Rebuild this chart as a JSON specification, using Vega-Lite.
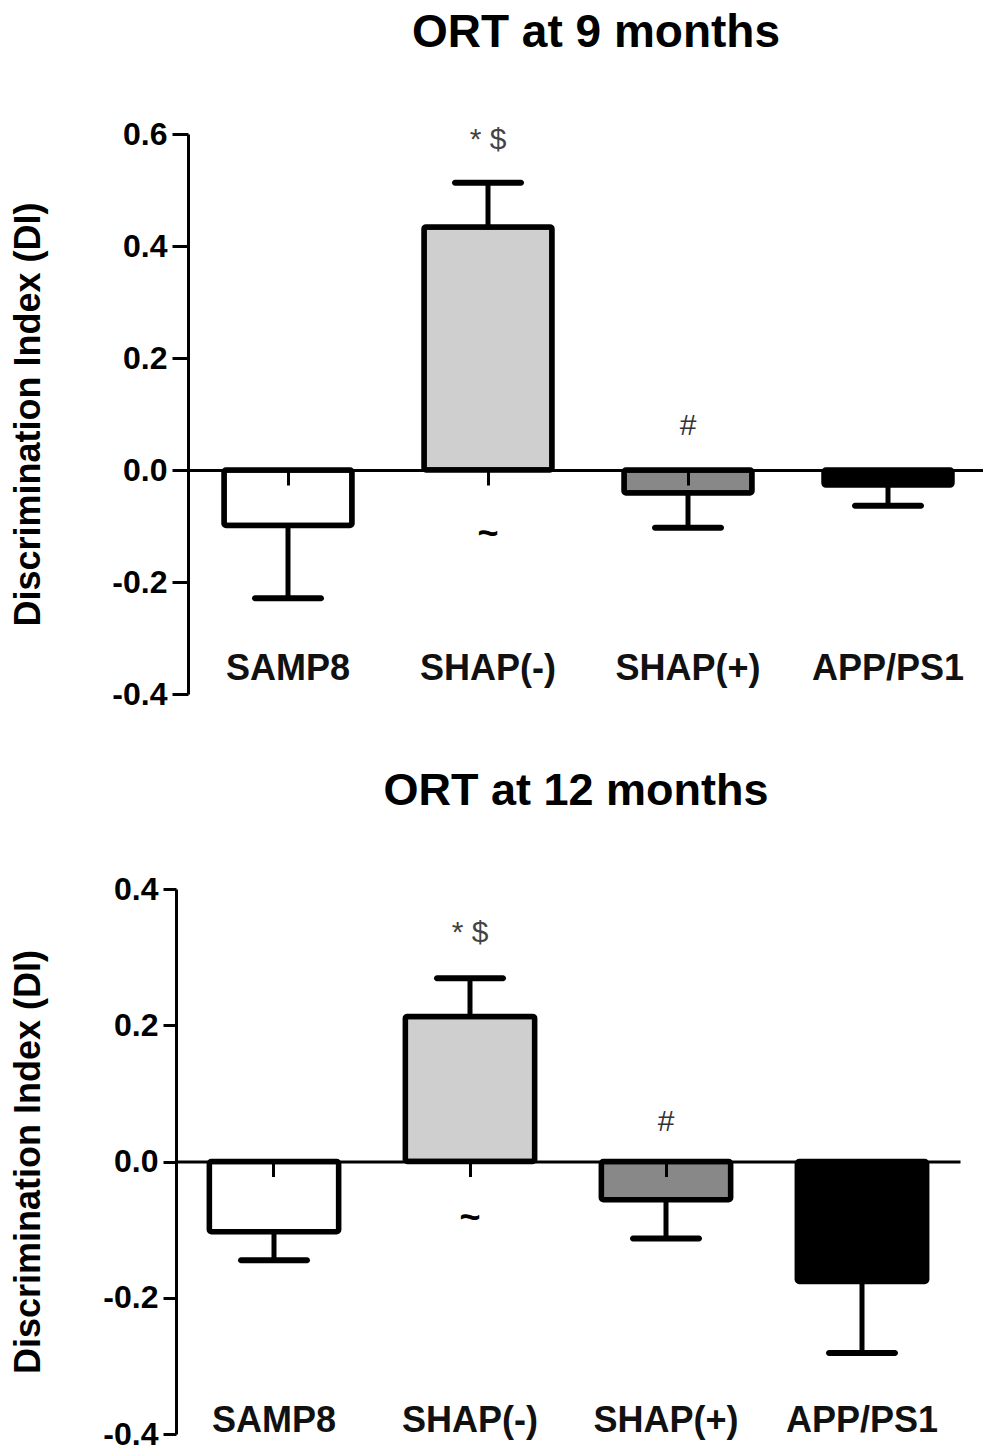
{
  "$schema": "https://vega.github.io/schema/vega-lite/v6.json",
  "padding": {"left": 10, "top": 10, "right": 0, "bottom": 0},
  "background": "white",
  "config": {"view": {"stroke": null}, "font": "Liberation Sans"},
  "spacing": 59,
  "datasets": {
    "m9": [
      {"group": "SAMP8", "mean": -0.099, "err_end": -0.229, "sig_top": "", "sig_zero": "", "sig_below": ""},
      {"group": "SHAP(-)", "mean": 0.434, "err_end": 0.513, "sig_top": "* $", "sig_zero": "", "sig_below": "~"},
      {"group": "SHAP(+)", "mean": -0.041, "err_end": -0.103, "sig_top": "", "sig_zero": "#", "sig_below": ""},
      {"group": "APP/PS1", "mean": -0.027, "err_end": -0.064, "sig_top": "", "sig_zero": "", "sig_below": ""}
    ],
    "m12": [
      {"group": "SAMP8", "mean": -0.103, "err_end": -0.145, "sig_top": "", "sig_zero": "", "sig_below": ""},
      {"group": "SHAP(-)", "mean": 0.213, "err_end": 0.269, "sig_top": "* $", "sig_zero": "", "sig_below": "~"},
      {"group": "SHAP(+)", "mean": -0.056, "err_end": -0.113, "sig_top": "", "sig_zero": "#", "sig_below": ""},
      {"group": "APP/PS1", "mean": -0.176, "err_end": -0.281, "sig_top": "", "sig_zero": "", "sig_below": ""}
    ]
  },
  "vconcat": [
    {
      "data": {"name": "m9"},
      "width": 808,
      "height": 560,
      "title": {"text": "ORT at 9 months", "fontSize": 46, "fontWeight": "bold", "color": "black", "font": "Liberation Sans", "offset": 61, "anchor": "middle", "dx": 16},
      "encoding": {
        "x": {"field": "group", "type": "nominal", "sort": null, "axis": null,
              "scale": {"range": [12, 812], "paddingInner": 0.36, "paddingOuter": 0.18}}
      },
      "resolve": {"axis": {"x": "independent"}},
      "layer": [
        {
          "mark": {"type": "bar", "stroke": "black", "strokeWidth": 5.5, "cornerRadius": 2, "strokeJoin": "round"},
          "encoding": {
            "x": {"field": "group", "type": "nominal", "sort": null,
                  "axis": {"orient": "bottom", "offset": -224, "labels": false, "title": null, "domainColor": "black", "domainWidth": 3, "tickColor": "black", "tickWidth": 3, "tickSize": 15, "zindex": 1}},
            "y": {"field": "mean", "type": "quantitative",
                  "scale": {"domain": [-0.4, 0.6], "nice": false},
                  "axis": {"offset": -12, "values": [-0.4, -0.2, 0, 0.2, 0.4, 0.6], "labelExpr": "replace(format(datum.value, '.1f'), '\u2212', '-')", "grid": false,
                           "domainColor": "black", "domainWidth": 3, "tickColor": "black", "tickWidth": 3, "tickSize": 16,
                           "labelFontSize": 32, "labelFontWeight": "bold", "labelColor": "black", "labelPadding": 5,
                           "title": "Discrimination Index (DI)", "titleFontSize": 36, "titleFontWeight": "bold", "titleColor": "black", "titlePadding": 64}},
            "fill": {"field": "group", "type": "nominal", "sort": null, "legend": null,
                     "scale": {"domain": ["SAMP8", "SHAP(-)", "SHAP(+)", "APP/PS1"], "range": ["#ffffff", "#cfcfcf", "#888888", "#000000"]}}
          }
        },
        {
          "mark": {"type": "rule", "color": "black", "strokeWidth": 5},
          "encoding": {
            "y": {"field": "mean", "type": "quantitative"},
            "y2": {"field": "err_end"}
          }
        },
        {
          "mark": {"type": "tick", "color": "black", "opacity": 1, "size": 72, "thickness": 6, "cornerRadius": 3},
          "encoding": {
            "x": {"field": "group", "type": "nominal", "sort": null,
                  "axis": {"orient": "bottom", "domain": false, "ticks": false, "title": null, "labelAngle": 0, "labelFontSize": 36, "labelFont": "Liberation Sans", "labelFontWeight": "bold", "labelColor": "#111111", "labelPadding": -43}},
            "y": {"field": "err_end", "type": "quantitative"}
          }
        },
        {
          "mark": {"type": "text", "fontSize": 30, "color": "#444444", "dy": -43, "baseline": "middle"},
          "encoding": {"y": {"field": "err_end", "type": "quantitative"}, "text": {"field": "sig_top"}}
        },
        {
          "mark": {"type": "text", "fontSize": 30, "color": "#333333", "dy": -44, "baseline": "middle"},
          "encoding": {"y": {"datum": 0}, "text": {"field": "sig_zero"}}
        },
        {
          "mark": {"type": "text", "fontSize": 36, "fontWeight": "bold", "color": "black", "dy": 64, "baseline": "middle"},
          "encoding": {"y": {"datum": 0}, "text": {"field": "sig_below"}}
        }
      ]
    },
    {
      "data": {"name": "m12"},
      "width": 784,
      "height": 545,
      "title": {"text": "ORT at 12 months", "fontSize": 45, "fontWeight": "bold", "color": "black", "font": "Liberation Sans", "offset": 59, "anchor": "middle", "dx": 8},
      "encoding": {
        "x": {"field": "group", "type": "nominal", "sort": null, "axis": null,
              "scale": {"paddingInner": 0.34, "paddingOuter": 0.17}}
      },
      "resolve": {"axis": {"x": "independent"}},
      "layer": [
        {
          "mark": {"type": "bar", "stroke": "black", "strokeWidth": 5.5, "cornerRadius": 2, "strokeJoin": "round"},
          "encoding": {
            "x": {"field": "group", "type": "nominal", "sort": null,
                  "axis": {"orient": "bottom", "offset": -272.5, "labels": false, "title": null, "domainColor": "black", "domainWidth": 3, "tickColor": "black", "tickWidth": 3, "tickSize": 15, "zindex": 1}},
            "y": {"field": "mean", "type": "quantitative",
                  "scale": {"domain": [-0.4, 0.4], "nice": false},
                  "axis": {"values": [-0.4, -0.2, 0, 0.2, 0.4], "labelExpr": "replace(format(datum.value, '.1f'), '\u2212', '-')", "grid": false,
                           "domainColor": "black", "domainWidth": 3, "tickColor": "black", "tickWidth": 3, "tickSize": 13,
                           "labelFontSize": 32, "labelFontWeight": "bold", "labelColor": "black", "labelPadding": 5,
                           "title": "Discrimination Index (DI)", "titleFontSize": 36, "titleFontWeight": "bold", "titleColor": "black", "titlePadding": 55}},
            "fill": {"field": "group", "type": "nominal", "sort": null, "legend": null,
                     "scale": {"domain": ["SAMP8", "SHAP(-)", "SHAP(+)", "APP/PS1"], "range": ["#ffffff", "#cfcfcf", "#888888", "#000000"]}}
          }
        },
        {
          "mark": {"type": "rule", "color": "black", "strokeWidth": 5},
          "encoding": {
            "y": {"field": "mean", "type": "quantitative"},
            "y2": {"field": "err_end"}
          }
        },
        {
          "mark": {"type": "tick", "color": "black", "opacity": 1, "size": 72, "thickness": 6, "cornerRadius": 3},
          "encoding": {
            "x": {"field": "group", "type": "nominal", "sort": null,
                  "axis": {"orient": "bottom", "domain": false, "ticks": false, "title": null, "labelAngle": 0, "labelFontSize": 36, "labelFont": "Liberation Sans", "labelFontWeight": "bold", "labelColor": "#111111", "labelPadding": -31}},
            "y": {"field": "err_end", "type": "quantitative"}
          }
        },
        {
          "mark": {"type": "text", "fontSize": 30, "color": "#444444", "dy": -45, "baseline": "middle"},
          "encoding": {"y": {"field": "err_end", "type": "quantitative"}, "text": {"field": "sig_top"}}
        },
        {
          "mark": {"type": "text", "fontSize": 30, "color": "#333333", "dy": -40, "baseline": "middle"},
          "encoding": {"y": {"datum": 0}, "text": {"field": "sig_zero"}}
        },
        {
          "mark": {"type": "text", "fontSize": 36, "fontWeight": "bold", "color": "black", "dy": 56, "baseline": "middle"},
          "encoding": {"y": {"datum": 0}, "text": {"field": "sig_below"}}
        }
      ]
    }
  ]
}
